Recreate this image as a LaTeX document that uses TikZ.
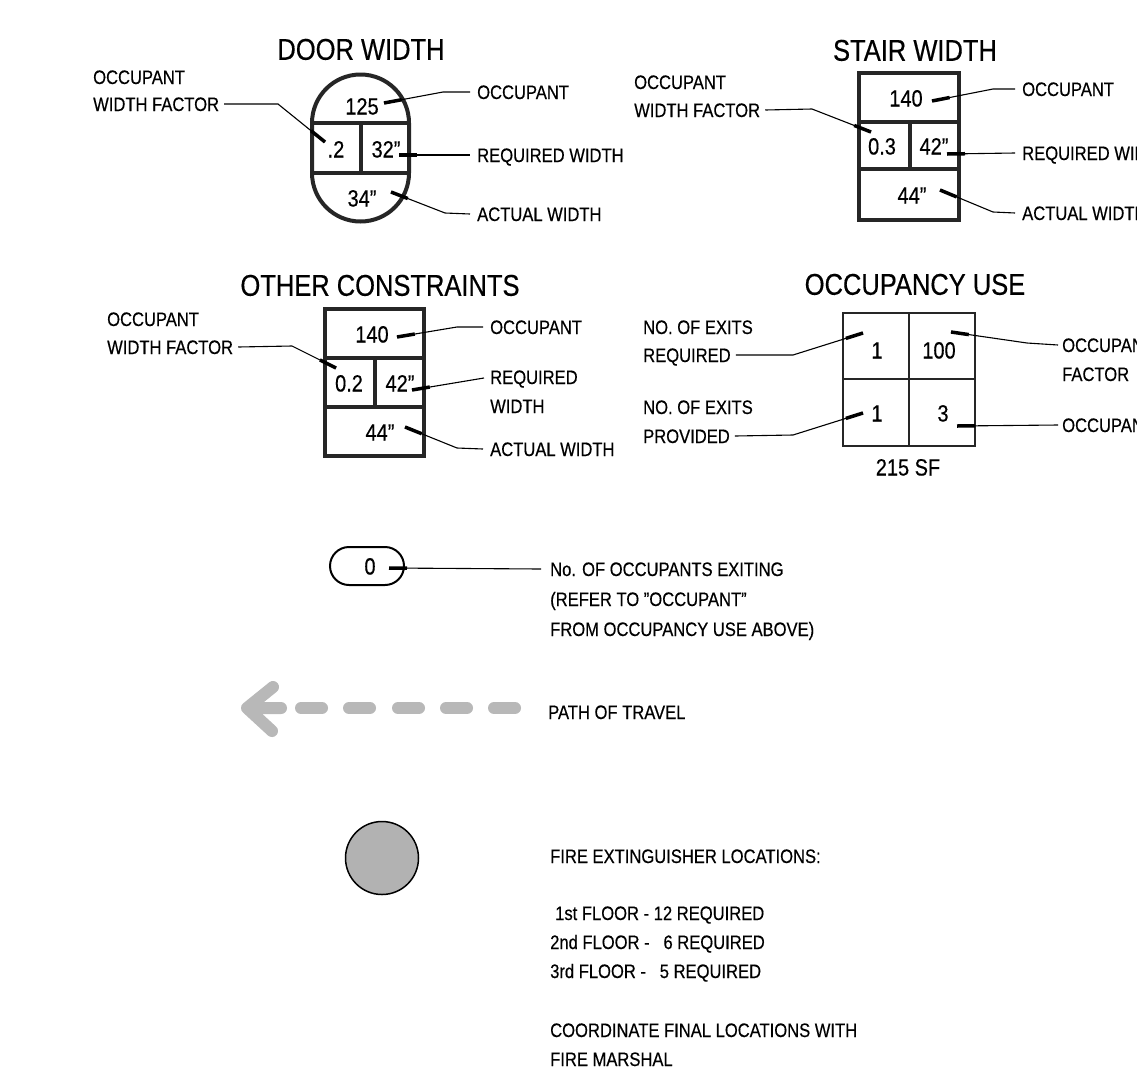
\documentclass[tikz,border=0pt]{standalone}
\usepackage{fontspec}
\setmainfont[FakeStretch=0.85,FakeBold=0.4]{Liberation Sans}
\usetikzlibrary{calc,shapes.misc}

\tikzset{
  lbl/.style={anchor=west,inner sep=0pt,text height=14pt,text depth=0pt,font=\fontsize{19.5}{24}\selectfont},
  num/.style={inner sep=0pt,text height=17pt,text depth=0pt,font=\fontsize{23.5}{28}\selectfont},
  ttl/.style={inner sep=0pt,text height=21.5pt,text depth=0pt,font=\fontsize{30}{36}\selectfont},
  frame/.style={line width=4pt,draw=black!85},
  thinframe/.style={line width=2pt,draw=black!85},
  leader/.style={line width=1.1pt},
  tick/.style={line width=3.5pt},
  travel/.style={line width=12pt,line cap=round,line join=round,draw=black!28},
}
\newcommand\qt{\symbol{34}}
% leader: start, bend, end
\newcommand\ldr[3]{%
  \draw[leader] (#1) -- (#2) -- (#3);
  \draw[tick] (#1) -- ($(#1)!18pt!(#2)$);}

\begin{document}
\begin{tikzpicture}[x=1pt,y=-1pt]
\clip (0,0) rectangle (1137,1074);
\fill[white] (0,0) rectangle (1137,1074);

% DOOR WIDTH
\node[ttl] (dT) at (361,49) {DOOR WIDTH};
\draw[frame] (312,123) arc[start angle=180,end angle=0,radius=48.5pt] -- (409,173)
  arc[start angle=0,end angle=-180,radius=48.5pt] -- cycle;
\draw[frame] (312,123) -- (409,123) (312,173) -- (409,173) (361,123) -- (361,173);
\node[num] (d125) at (362,106) {125};
\node[num] (d2) at (336,149) {.2};
\node[num] (d32) at (386,149) {32\qt};
\node[num] (d34) at (362,198) {34\qt};
\node[lbl] (dOccL) at (93,77) {OCCUPANT};
\node[lbl] (dWF) at (93,104) {WIDTH FACTOR};
\node[lbl] (dOcc) at (477,92) {OCCUPANT};
\node[lbl] (dReq) at (477,155) {REQUIRED WIDTH};
\node[lbl] (dAct) at (477,214) {ACTUAL WIDTH};
\coordinate (d1) at (384,103);
\coordinate (d3) at (399,155);
\coordinate (d4) at (391,192);
\coordinate (d5) at (325,142);
\ldr{d1}{443,92}{[xshift=-7pt]dOcc.west}
\ldr{d3}{[xshift=-7pt]dReq.west}{[xshift=-7pt]dReq.west}
\ldr{d4}{445,213}{[xshift=-7pt]dAct.west}
\ldr{d5}{278,104}{[xshift=5pt]dWF.east}

% STAIR WIDTH
\node[ttl] (sT) at (915,50) {STAIR WIDTH};
\draw[frame] (859,73) rectangle (959,220);
\draw[frame] (859,122) -- (959,122) (859,169) -- (959,169) (910,122) -- (910,169);
\node[num] (s140) at (906,98) {140};
\node[num] (s03) at (882,146) {0.3};
\node[num] (s42) at (934,146) {42\qt};
\node[num] (s44) at (912,195) {44\qt};
\node[lbl] (sOccL) at (634,82) {OCCUPANT};
\node[lbl] (sWF) at (634,110) {WIDTH FACTOR};
\node[lbl] (sOcc) at (1022,89) {OCCUPANT};
\node[lbl] (sReq) at (1022,153) {REQUIRED WIDTH};
\node[lbl] (sAct) at (1022,213) {ACTUAL WIDTH};
\coordinate (s1) at (932,101);
\coordinate (s3) at (947,154);
\coordinate (s4) at (940,190);
\coordinate (s5) at (871,132);
\ldr{s1}{993,89}{[xshift=-7pt]sOcc.west}
\ldr{s3}{[xshift=-7pt]sReq.west}{[xshift=-7pt]sReq.west}
\ldr{s4}{993,212}{[xshift=-7pt]sAct.west}
\ldr{s5}{812,109}{[xshift=5pt]sWF.east}

% OTHER CONSTRAINTS
\node[ttl] (oT) at (380,285) {OTHER CONSTRAINTS};
\draw[frame] (325,309) rectangle (424,456);
\draw[frame] (325,358) -- (424,358) (325,407) -- (424,407) (375,358) -- (375,407);
\node[num] (o140) at (372,334) {140};
\node[num] (o02) at (349,383) {0.2};
\node[num] (o42) at (400,383) {42\qt};
\node[num] (o44) at (380,432) {44\qt};
\node[lbl] (oOccL) at (107,319) {OCCUPANT};
\node[lbl] (oWF) at (107,347) {WIDTH FACTOR};
\node[lbl] (oOcc) at (490,327) {OCCUPANT};
\node[lbl] (oReq) at (490,377) {REQUIRED};
\node[lbl] (oReq2) at (490,406) {WIDTH};
\node[lbl] (oAct) at (490,449) {ACTUAL WIDTH};
\coordinate (o1) at (397,337);
\coordinate (o3) at (412,390);
\coordinate (o4) at (405,427);
\coordinate (o5) at (336,368);
\ldr{o1}{457,327}{[xshift=-7pt]oOcc.west}
\ldr{o3}{[xshift=-6pt,yshift=-1pt]oReq.west}{[xshift=-6pt,yshift=-1pt]oReq.west}
\ldr{o4}{457,448}{[xshift=-7pt]oAct.west}
\ldr{o5}{292,346}{[xshift=5pt]oWF.east}

% OCCUPANCY USE
\node[ttl] (uT) at (915,284) {OCCUPANCY USE};
\draw[thinframe] (843,313) rectangle (975,446);
\draw[thinframe] (909,313) -- (909,446) (843,379) -- (975,379);
\node[num] (u1a) at (877,350) {1};
\node[num] (u100) at (939,350) {100};
\node[num] (u1b) at (877,413) {1};
\node[num] (u3) at (943,413) {3};
\node[num] (uSF) at (908,467) {215 SF};
\node[lbl] (uNo1) at (643,327) {NO. OF EXITS};
\node[lbl] (uReq) at (643,355) {REQUIRED};
\node[lbl] (uNo2) at (643,407) {NO. OF EXITS};
\node[lbl] (uProv) at (643,436) {PROVIDED};
\node[lbl] (uOccF) at (1062,345) {OCCUPANT};
\node[lbl] (uFac) at (1062,374) {FACTOR};
\node[lbl] (uOcc) at (1062,425) {OCCUPANT};
\coordinate (u1) at (863,333);
\coordinate (u2) at (863,413);
\coordinate (u3s) at (951,332);
\coordinate (u4) at (957,426);
\ldr{u1}{793,355}{[xshift=5pt]uReq.east}
\ldr{u2}{793,435}{[xshift=5pt]uProv.east}
\ldr{u3s}{1027,343}{[xshift=-4pt]uOccF.west}
\ldr{u4}{[xshift=-4pt]uOcc.west}{[xshift=-4pt]uOcc.west}

% occupants exiting
\node[draw,line width=2pt,rounded rectangle,minimum width=74pt,minimum height=38pt,
  inner sep=0pt] (zero) at (367,566) {};
\node[num] (z0) at (370,566) {0};
\node[lbl] (ex1) at (550,569) {No. OF OCCUPANTS EXITING};
\node[lbl] (ex2) at (550,599) {(REFER TO \qt OCCUPANT\qt};
\node[lbl] (ex3) at (550,629) {FROM OCCUPANCY USE ABOVE)};
\coordinate (z1) at (389,568);
\ldr{z1}{[xshift=-9pt]ex1.west}{[xshift=-9pt]ex1.west}

% path of travel
\draw[travel] (273,687) -- (247,708) -- (272,731) (247,708) -- (281,708);
\foreach \x in {295,343,392,440,488}
  \draw[travel] (\x+6,708) -- (\x+27,708);
\node[lbl] (pot) at (548,712) {PATH OF TRAVEL};

% fire extinguisher
\node[circle,draw,line width=1.5pt,fill=black!30,minimum size=73pt] (fe) at (382,858) {};
\node[lbl] (fe1) at (550,856) {FIRE EXTINGUISHER LOCATIONS:};
\node[lbl] (fe2) at (555,913) {1st FLOOR - 12 REQUIRED};
\node[lbl] (fe3) at (550,942) {2nd FLOOR - \ \ 6 REQUIRED};
\node[lbl] (fe4) at (550,971) {3rd FLOOR - \ \ 5 REQUIRED};
\node[lbl] (fe5) at (550,1030) {COORDINATE FINAL LOCATIONS WITH};
\node[lbl] (fe6) at (550,1059) {FIRE MARSHAL};
\end{tikzpicture}
\end{document}
